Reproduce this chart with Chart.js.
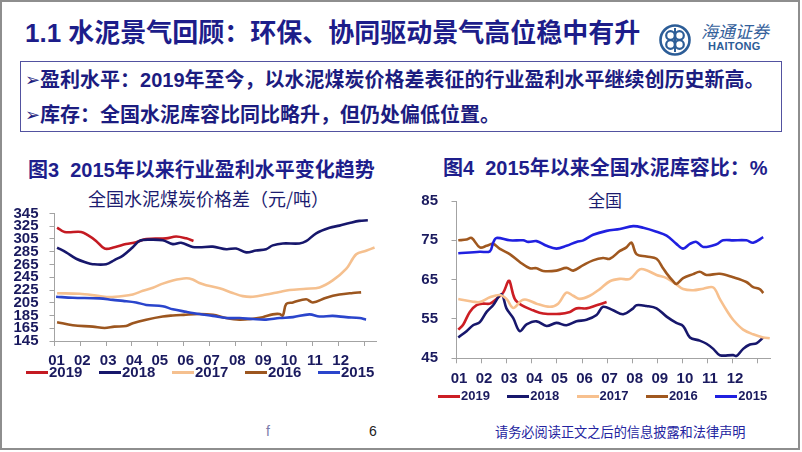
<!DOCTYPE html>
<html>
<head>
<meta charset="utf-8">
<script src="https://cdn.jsdelivr.net/npm/chart.js@4/dist/chart.umd.min.js"></script>
<style>
  html,body{margin:0;padding:0;background:#fff;}
  body{width:802px;height:452px;position:relative;overflow:hidden;font-family:"Liberation Sans","Noto Sans CJK SC",sans-serif;}
  .abs{position:absolute;white-space:nowrap;}
  #frame{position:absolute;left:0;top:0;width:800px;height:450px;box-sizing:border-box;border:2px solid #8e8e8e;}
  #title{left:25px;top:15px;font-size:26px;font-weight:bold;color:#1d1d8a;line-height:36px;font-family:"Liberation Sans","Noto Sans CJK SC",sans-serif;}
  #box{position:absolute;left:20px;top:61px;width:762px;height:71px;box-sizing:border-box;border:1.5px solid #5252a0;}
  .bullet{font-size:20px;font-weight:bold;color:#1c1c80;line-height:26px;font-family:"Liberation Sans","Noto Sans CJK SC",sans-serif;}
  .arrow{font-family:"DejaVu Sans";font-size:18px;font-weight:normal;position:relative;top:-1px;}
  .ctitle{font-size:20px;font-weight:bold;color:#1e1e8c;line-height:26px;font-family:"Liberation Sans","Noto Sans CJK SC",sans-serif;}
  .sub{font-size:18px;color:#1c1c70;line-height:24px;font-family:"Noto Sans CJK SC",sans-serif;}
  canvas{position:absolute;}
  .leg{position:absolute;height:20px;}
  .leg i{position:absolute;left:0;height:3px;}
  .leg span{position:absolute;font-weight:bold;color:#1a1a5e;white-space:nowrap;font-family:"Liberation Sans",Arial,sans-serif;}
</style>
</head>
<body>
<div id="frame"></div>
<div class="abs" id="title">1.1 水泥景气回顾：环保、协同驱动景气高位稳中有升</div>
<svg class="abs" style="left:658px;top:23px" width="34" height="34" viewBox="0 0 34 34">
  <circle cx="17" cy="17" r="14.5" fill="none" stroke="#2c5d97" stroke-width="2.6"/>
  <circle cx="12.5" cy="12.5" r="4.3" fill="none" stroke="#2c5d97" stroke-width="2.2"/>
  <circle cx="21.5" cy="12.5" r="4.3" fill="none" stroke="#2c5d97" stroke-width="2.2"/>
  <circle cx="12.5" cy="21.5" r="4.3" fill="none" stroke="#2c5d97" stroke-width="2.2"/>
  <circle cx="21.5" cy="21.5" r="4.3" fill="none" stroke="#2c5d97" stroke-width="2.2"/>
  <line x1="17" y1="5" x2="17" y2="29" stroke="#2c5d97" stroke-width="2"/>
</svg>
<div class="abs" style="left:701px;top:20px;font-size:17px;color:#33609a;font-style:italic;font-family:'Noto Sans CJK SC';line-height:22px;letter-spacing:0px">海通证券</div>
<div class="abs" style="left:708px;top:40px;font-size:11px;font-weight:bold;color:#2c5d97;font-family:'Liberation Sans';line-height:13px;letter-spacing:0.3px">HAITONG</div>
<div id="box"></div>
<div class="abs bullet" style="left:25px;top:67px"><span class="arrow">➢</span>盈利水平：2019年至今，以水泥煤炭价格差表征的行业盈利水平继续创历史新高。</div>
<div class="abs bullet" style="left:25px;top:102px"><span class="arrow">➢</span>库存：全国水泥库容比同比略升，但仍处偏低位置。</div>

<div class="abs ctitle" style="left:28px;top:157px">图3&nbsp;&nbsp;2015年以来行业盈利水平变化趋势</div>
<div class="abs ctitle" style="left:443px;top:155px">图4&nbsp;&nbsp;2015年以来全国水泥库容比：%</div>
<div class="abs sub" style="left:88px;top:186px">全国水泥煤炭价格差（元/吨）</div>
<div class="abs sub" style="left:588px;top:188px;font-size:17px">全国</div>

<canvas id="left" width="395" height="180" style="left:0px;top:195px;width:395px;height:180px"></canvas>
<canvas id="right" width="400" height="215" style="left:400px;top:180px;width:400px;height:215px"></canvas>

<div id="legL"></div>
<div id="legR"></div>

<div class="abs" style="left:266px;top:422px;font-size:14px;color:#7a7aaa;line-height:18px">f</div>
<div class="abs" style="left:369px;top:422px;font-size:14px;color:#222;line-height:18px">6</div>
<div class="abs" style="left:495px;top:423px;font-size:13.2px;color:#2323a0;line-height:18px;font-family:'Noto Sans CJK SC'">请务必阅读正文之后的信息披露和法律声明</div>

<script>
// ---------- shared labels ----------
const SERIES_NAMES = ['2019', '2018', '2017', '2016', '2015'];
const X_TICK_LABELS = ['01','02','03','04','05','06','07','08','09','10','11','12',''];

// ---------- Figure 3: cement-coal price spread (yuan/ton); x = month position (0 = start of Jan) ----------
const L_X_2019 = [0.1,0.39,1.03,1.29,1.61,1.94,2.32,2.77,3.16,3.55,4.32,4.71,5.1,5.38];
const L_Y_2019 = [323,316,316,311,302,290,292,297,300,305,306,309,306,302];

const L_X_2018 = [0.1,0.45,0.84,1.23,1.48,2.0,2.32,2.65,3.03,3.29,3.68,4.19,4.58,4.9,5.35,5.61,6.13,6.65,7.03,7.42,7.8,8.19,8.45,8.84,9.48,9.74,10.13,10.65,11.03,11.42,11.8,12.13];
const L_Y_2018 = [291.6,284,274,268,265.5,265.5,272,279,292,302,304,303,297,299,292.6,292,293,289,290,284,287,289,295,298,298,301.5,314,322.6,326,330,333.4,334.4];

const L_X_2017 = [0.1,0.97,1.74,2.13,2.65,3.03,3.42,3.81,4.19,4.58,5.1,5.35,5.61,5.87,6.39,6.9,7.29,7.68,8.19,8.71,9.1,9.74,10.26,10.77,11.29,11.68,12.06,12.39];
const L_Y_2017 = [220,219,215.5,214,215.5,218,223.7,228.6,235,240,243.4,241.4,236,232.6,227.7,220.3,215.4,214.4,217.8,222,225,227,229,240,258,281,286.7,291.6];

const L_X_2016 = [0.1,0.71,1.48,1.94,2.32,2.77,3.03,3.55,4.19,4.58,5.0,5.61,6.13,6.65,7.16,7.68,8.06,8.45,8.71,8.84,8.97,9.23,9.74,10.0,10.52,11.03,11.55,11.87];
const L_Y_2016 = [174.5,169.6,167.6,165.5,167.6,168.5,173,178.5,183.5,185,186,187.3,186,181,178.5,180,182.4,186.8,187.3,185,203,205.5,210.4,205.5,212.9,217.8,220.3,221.3];

const L_X_2015 = [0.06,0.71,1.74,2.26,2.65,3.16,3.55,4.19,4.58,5.1,5.61,6.13,6.65,7.16,7.68,8.19,8.71,9.23,9.87,10.26,10.77,11.29,11.81,12.06];
const L_Y_2015 = [214.4,212.9,211.9,209.5,208,205.5,201.6,199.6,194.7,190.8,187.3,184.4,181,181,179.4,178.5,181,182.4,186.8,183.4,184.4,182.4,181,178.5];

// ---------- Figure 4: national cement storage ratio (%) ----------
const R_X_2019 = [0.07,0.27,0.53,0.8,1.06,1.33,1.59,1.86,2.06,2.12,2.32,2.59,3.05,3.45,4.12,4.52,4.78,5.18,5.58,5.98];
const R_Y_2019 = [52.3,53.6,56.8,58.5,58.9,58.9,60.1,61.7,64.6,64.6,60.1,58.5,57.2,56.4,56.3,56.8,57.7,57.7,58.5,59.3];

const R_X_2018 = [0.07,0.4,0.66,0.93,1.2,1.46,1.79,1.99,2.26,2.52,2.79,3.19,3.59,3.98,4.38,4.78,5.18,5.58,5.84,6.24,6.64,7.04,7.17,7.57,7.97,8.37,8.76,9.03,9.3,9.69,9.96,10.23,10.49,11.02,11.16,11.42,11.69,11.95,12.22];
const R_Y_2018 = [50.3,51.9,53.4,54.2,56.8,58.5,61.3,57.7,55.2,51.9,53.6,54.4,53.2,54,53.4,54.4,54.8,56,58.1,57.2,56.2,57.7,58.5,58.3,57.7,55.6,54,53.2,50.3,49.5,48.7,47.4,45.8,45.8,45.6,47.4,48.5,48.8,50.3];

const R_X_2017 = [0.07,0.66,0.93,1.33,1.73,1.99,2.26,2.59,2.79,3.19,3.72,4.05,4.38,4.65,4.91,5.31,5.71,6.11,6.51,6.91,7.3,7.57,7.97,8.37,8.76,9.03,9.43,9.83,10.23,10.49,10.76,11.02,11.42,11.82,12.22,12.48];
const R_Y_2017 = [60.1,59.4,59.3,60.5,61.1,60.1,57.8,59.7,59.9,58.9,58.1,58.9,61.7,60.9,60.1,60.9,62.6,64.6,65.2,65.2,67.6,67.4,66.2,65.4,63.8,62.6,62.3,62.7,63,60.1,57.2,54.8,52.3,51.1,50.3,50.1];

const R_X_2016 = [0.07,0.4,0.6,0.93,1.2,1.46,1.73,2.12,2.52,2.92,3.19,3.45,3.98,4.38,4.65,5.05,5.44,5.84,6.11,6.51,6.77,6.97,7.17,7.57,7.97,8.23,8.37,8.63,8.76,9.03,9.43,9.69,9.96,10.49,11.02,11.55,11.82,12.08,12.22];
const R_Y_2016 = [75,75.2,75.6,73.2,73.6,74.1,72.8,71.5,69.5,67.9,67.9,67.2,67.3,68,67.3,68.7,69.9,70.5,70.3,72.3,73.2,74.4,71.5,70.9,70.3,67.9,66.6,64.6,63.9,65.4,66.4,67,66.2,66.5,65.6,64.4,63.1,62.6,61.6];

const R_X_2015 = [0.07,0.93,1.33,1.46,1.59,2.12,2.66,2.86,3.19,3.59,3.98,4.38,4.78,5.05,5.44,5.98,6.51,7.04,7.44,7.97,8.37,8.76,9.03,9.3,9.56,9.83,10.36,10.62,11.02,11.55,11.82,12.22];
const R_Y_2015 = [71.7,72.1,72.2,74.4,75.6,75,75,74.6,74.8,73.6,72.9,73.6,74.6,75,76.4,77.4,77.9,78.6,78.2,77.2,76.2,74.1,72.9,74.1,74.6,73.3,74,75,75,75,74.4,75.8];

// ---------- styling ----------
const L_COLORS = ['#c41a22', '#17176c', '#f5c08f', '#9c561f', '#2a45cc'];
const R_COLORS = ['#cc1e24', '#17176c', '#f7c08e', '#a0581f', '#2020e0'];
const AXIS_COLOR = '#a3a3a3';
const LABEL_COLOR = '#1a1a5e';

Chart.defaults.font.family = "'Liberation Sans', Arial, sans-serif";
Chart.defaults.animation = false;

function pts(xs, ys) { return xs.map((x, i) => ({ x: x, y: ys[i] })); }

function makeDatasets(xsList, ysList, colors) {
  return SERIES_NAMES.map((name, i) => ({
    label: name,
    data: pts(xsList[i], ysList[i]),
    borderColor: colors[i],
    backgroundColor: colors[i],
    borderWidth: 2.6,
    pointRadius: 0,
    tension: 0.35,
    fill: false,
    order: SERIES_NAMES.length - i
  }));
}

function makeChart(id, datasets, cfg) {
  return new Chart(document.getElementById(id), {
    type: 'line',
    data: { datasets: datasets },
    options: {
      responsive: false,
      devicePixelRatio: 1,
      animation: false,
      layout: { padding: { top: cfg.padTop, right: cfg.padRight, left: 0, bottom: 0 } },
      plugins: { legend: { display: false }, tooltip: { enabled: false } },
      scales: {
        x: {
          type: 'linear', min: 0, max: cfg.xMax,
          border: { display: true, color: AXIS_COLOR, width: 1 },
          grid: { drawOnChartArea: false, drawTicks: true, tickLength: 5, color: AXIS_COLOR },
          ticks: {
            stepSize: 1, includeBounds: false, autoSkip: false, maxRotation: 0,
            padding: cfg.xPad, labelOffset: cfg.xLabelOffset,
            color: LABEL_COLOR, font: { size: 15, weight: 'bold' },
            callback: (v) => Number.isInteger(v) ? (X_TICK_LABELS[v] ?? '') : ''
          },
          afterFit: (s) => { s.height = cfg.xHeight; }
        },
        y: {
          type: 'linear', min: cfg.yMin, max: cfg.yMax,
          border: { display: true, color: AXIS_COLOR, width: 1 },
          grid: { drawOnChartArea: false, drawTicks: true, tickLength: 5, color: AXIS_COLOR },
          ticks: {
            stepSize: cfg.yStep, padding: cfg.yPad, autoSkip: false,
            color: LABEL_COLOR, font: { size: 15, weight: 'bold', lineHeight: 1 }
          },
          afterFit: (s) => { s.width = cfg.yWidth; }
        }
      }
    }
  });
}

makeChart('left',
  makeDatasets([L_X_2019, L_X_2018, L_X_2017, L_X_2016, L_X_2015],
               [L_Y_2019, L_Y_2018, L_Y_2017, L_Y_2016, L_Y_2015], L_COLORS),
  { padTop: 10.7, padRight: 18.9, xMax: 12.45, xHeight: 34, xPad: 6, xLabelOffset: 2,
    yMin: 145, yMax: 345, yStep: 20, yPad: 11, yWidth: 54.5 });

makeChart('right',
  makeDatasets([R_X_2019, R_X_2018, R_X_2017, R_X_2016, R_X_2015],
               [R_Y_2019, R_Y_2018, R_Y_2017, R_Y_2016, R_Y_2015], R_COLORS),
  { padTop: 15, padRight: 30, xMax: 12.49, xHeight: 36.7, xPad: 7, xLabelOffset: 2.5,
    yMin: 45, yMax: 85, yStep: 10, yPad: 13.5, yWidth: 56.5 });

// ---------- legends (built from series names & colours) ----------
function buildLegend(id, left0, pitch, top, fontSize, colors) {
  const host = document.getElementById(id);
  SERIES_NAMES.forEach((name, i) => {
    const d = document.createElement('div');
    d.className = 'leg';
    d.style.left = (left0 + i * pitch) + 'px';
    d.style.top = top + 'px';
    d.innerHTML = '<i style="top:8.5px;width:22px;background:' + colors[i] + '"></i>' +
      '<span style="left:23px;top:' + (10 - fontSize * 0.6) + 'px;font-size:' + fontSize + 'px;line-height:' + (fontSize * 1.2) + 'px">' + name + '</span>';
    host.appendChild(d);
  });
}
buildLegend('legL', 26, 73, 362, 15, L_COLORS);
buildLegend('legR', 438, 69.3, 386, 13, R_COLORS);
</script>
</body>
</html>
